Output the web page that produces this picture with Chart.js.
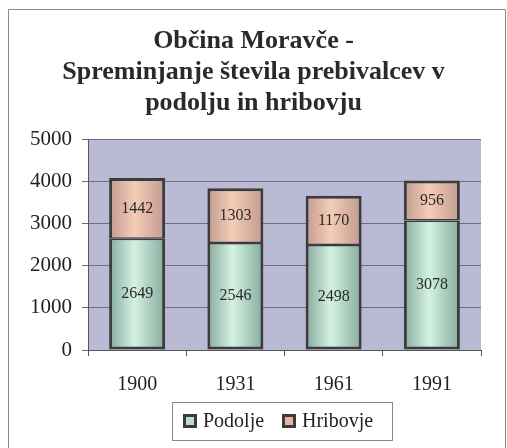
<!DOCTYPE html>
<html>
<head>
  <title>Občina Moravče</title>
  <script src="https://cdn.jsdelivr.net/npm/chart.js"></script>
  <style>
    body { margin: 0; background: #fff; }
  </style>
</head>
<body>
<canvas id="barChart" width="507" height="448"></canvas>

<script>
const years = ['1900', '1931', '1961', '1991'];
const podolje = [2649, 2546, 2498, 3078];
const hribovje = [1442, 1303, 1170, 956];
const seriesNames = ['Podolje', 'Hribovje'];
const yTicks = [0, 1000, 2000, 3000, 4000, 5000];

const BAR_FRACTION = 0.57;
const SERIF = '"Liberation Serif", "Times New Roman", serif';

// cylinder-like shading across each bar
function shade(edge, mid) {
  return function (ctx) {
    const chart = ctx.chart;
    const area = chart.chartArea;
    if (!area) return mid;
    const x = chart.scales.x.getPixelForValue(ctx.dataIndex);
    const w = area.width / years.length * BAR_FRACTION;
    const g = chart.ctx.createLinearGradient(x - w / 2, 0, x + w / 2, 0);
    g.addColorStop(0, edge);
    g.addColorStop(0.45, mid);
    g.addColorStop(1, edge);
    return g;
  };
}

const frame = {
  id: 'frame',
  beforeDraw(chart) {
    const c = chart.ctx;
    const a = chart.chartArea;
    c.save();
    c.strokeStyle = '#8a8a8a';
    c.lineWidth = 1;
    c.beginPath();
    c.moveTo(8.5, 448);
    c.lineTo(8.5, 9.5);
    c.lineTo(505.5, 9.5);
    c.lineTo(505.5, 448);
    c.stroke();
    c.fillStyle = '#babad4';
    c.fillRect(a.left, a.top, a.width, a.height);
    c.restore();
  }
};

const valueLabels = {
  id: 'valueLabels',
  afterDatasetsDraw(chart) {
    const c = chart.ctx;
    c.save();
    c.font = '16px ' + SERIF;
    c.fillStyle = '#2a2a2a';
    c.textAlign = 'center';
    c.textBaseline = 'middle';
    chart.data.datasets.forEach((ds, i) => {
      chart.getDatasetMeta(i).data.forEach((bar, j) => {
        const mid = (bar.y + bar.base) / 2;
        c.fillText(ds.data[j], bar.x, mid);
      });
    });
    c.restore();
  }
};

const boxedLegend = {
  id: 'boxedLegend',
  afterDraw(chart) {
    const c = chart.ctx;
    c.save();
    c.strokeStyle = '#8a8a8a';
    c.lineWidth = 1;
    c.strokeRect(172.5, 402.5, 220, 38);
    c.font = '20px ' + SERIF;
    c.textBaseline = 'middle';
    const items = [
      { x: 183, fill: '#b8e0cc' },
      { x: 282, fill: '#e4b4a0' }
    ];
    items.forEach((it, i) => {
      c.fillStyle = chart.data.datasets[i].borderColor;
      c.fillRect(it.x, 414, 14, 14);
      c.fillStyle = it.fill;
      c.fillRect(it.x + 3, 417, 8, 8);
      c.fillStyle = '#222';
      c.fillText(seriesNames[i], it.x + 20, 422);
    });
    c.restore();
  }
};

new Chart(document.getElementById('barChart'), {
  type: 'bar',
  data: {
    labels: years,
    datasets: [{
      label: seriesNames[0],
      data: podolje,
      backgroundColor: shade('#86ab9e', '#d4f2e2'),
      borderColor: '#3c3c3c',
      borderWidth: { left: 3, right: 3, bottom: 3, top: 1.5 },
      borderSkipped: false
    }, {
      label: seriesNames[1],
      data: hribovje,
      backgroundColor: shade('#c29a90', '#f4cdb6'),
      borderColor: '#3c3c3c',
      borderWidth: { left: 3, right: 3, bottom: 1.5, top: 3 },
      borderSkipped: false
    }]
  },
  options: {
    responsive: false,
    animation: false,
    layout: { padding: { left: 26, right: 26, top: 0, bottom: 34 } },
    datasets: {
      bar: { categoryPercentage: BAR_FRACTION, barPercentage: 1 }
    },
    plugins: {
      legend: { display: false },
      tooltip: { enabled: false },
      title: {
        display: true,
        text: ['Občina Moravče -', 'Spreminjanje števila prebivalcev v', 'podolju in hribovju'],
        color: '#2a2a2a',
        font: { family: SERIF, size: 26, weight: 'bold', lineHeight: 1.19 },
        padding: { top: 26, bottom: 21 }
      }
    },
    scales: {
      x: {
        stacked: true,
        grid: {
          offset: true,
          drawOnChartArea: false,
          color: '#555',
          tickLength: 6
        },
        border: { color: '#555', width: 1 },
        ticks: {
          color: '#222',
          padding: 17,
          font: { family: SERIF, size: 20 }
        }
      },
      y: {
        stacked: true,
        min: 0,
        max: 5000,
        afterFit(scale) { scale.width = 62; },
        afterBuildTicks(scale) { scale.ticks = yTicks.map(v => ({ value: v })); },
        grid: { color: '#6e6e7e', tickLength: 6 },
        border: { color: '#555', width: 1 },
        ticks: {
          color: '#222',
          padding: 10,
          font: { family: SERIF, size: 21 },
          callback: v => String(v)
        }
      }
    }
  },
  plugins: [frame, valueLabels, boxedLegend]
});
</script>
</body>
</html>
